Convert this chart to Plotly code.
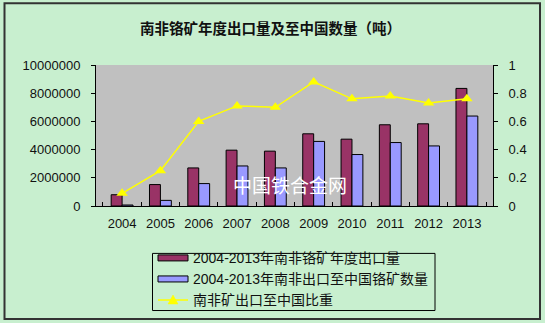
import plotly.graph_objects as go

# South African chrome ore exports, shipments to China and China's share
years = ["2004", "2005", "2006", "2007", "2008", "2009", "2010", "2011", "2012", "2013"]
annual_export = [800000, 1520000, 2700000, 3960000, 3890000, 5120000, 4740000, 5760000, 5830000, 8340000]
export_to_china = [70000, 400000, 1590000, 2840000, 2700000, 4580000, 3650000, 4500000, 4260000, 6380000]
china_share = [0.09, 0.25, 0.60, 0.71, 0.70, 0.88, 0.76, 0.78, 0.73, 0.76]

series_names = [
    "2004-2013年南非铬矿年度出口量",
    "2004-2013年南非出口至中国铬矿数量",
    "南非矿出口至中国比重",
]
left_ticks = [0, 2000000, 4000000, 6000000, 8000000, 10000000]
right_ticks = [0, 0.2, 0.4, 0.6, 0.8, 1]

W, H = 545, 323
PL, PR, PT, PB = 96, 493, 65, 205.7  # plot area edges in pixels


def px_x(px):
    return (px - PL) / (PR - PL)


def px_y(py):
    return (PB - py) / (PB - PT)


FONT = "Liberation Sans, Arial, Noto Sans CJK SC, sans-serif"
CJK = "Noto Sans CJK SC, sans-serif"
MAROON, LILAC, YELLOW = "#993366", "#9999FF", "#FFFF00"

fig = go.Figure()
fig.add_trace(go.Bar(
    x=years, y=annual_export, name=series_names[0],
    marker=dict(color=MAROON, line=dict(color="#000000", width=1)),
))
fig.add_trace(go.Bar(
    x=years, y=export_to_china, name=series_names[1],
    marker=dict(color=LILAC, line=dict(color="#000000", width=1)),
))
fig.add_trace(go.Scatter(
    x=years, y=china_share, name=series_names[2], yaxis="y2",
    mode="lines+markers",
    line=dict(color=YELLOW, width=1.5),
    marker=dict(symbol="triangle-up", size=10, color=YELLOW),
))

# Boxed legend below the plot: swatches + labels
shapes = [
    dict(type="rect", xref="paper", yref="paper",
         x0=px_x(4.5), x1=px_x(540), y0=px_y(318.5), y1=px_y(3.5),
         line=dict(color="#333333", width=2), fillcolor="rgba(0,0,0,0)", layer="above"),
    dict(type="rect", xref="paper", yref="paper",
         x0=px_x(152.5), x1=px_x(435), y0=px_y(310), y1=px_y(253),
         line=dict(color="#000000", width=1), fillcolor="rgba(0,0,0,0)"),
]
row_y = [257.5, 278.5, 299.5]
for color, yc in zip([MAROON, LILAC], row_y[:2]):
    shapes.append(dict(type="rect", xref="paper", yref="paper",
                       x0=px_x(158), x1=px_x(188), y0=px_y(yc + 3), y1=px_y(yc - 3),
                       line=dict(color="#000000", width=1), fillcolor=color))
shapes.append(dict(type="line", xref="paper", yref="paper",
                   x0=px_x(158), x1=px_x(188), y0=px_y(row_y[2]), y1=px_y(row_y[2]),
                   line=dict(color=YELLOW, width=1.5)))
tx, ty = 173, row_y[2]
shapes.append(dict(type="path", xref="paper", yref="paper",
                   path=f"M {px_x(tx - 5)} {px_y(ty + 4)} L {px_x(tx + 5)} {px_y(ty + 4)} "
                        f"L {px_x(tx)} {px_y(ty - 5)} Z",
                   line=dict(color=YELLOW, width=0.5), fillcolor=YELLOW))

annotations = [
    dict(text="南非铬矿年度出口量及至中国数量（吨）", xref="paper", yref="paper",
         x=px_x(270), y=px_y(28), xanchor="center", yanchor="middle", showarrow=False,
         font=dict(family=CJK, size=14.5, color="#111111", weight="bold")),
    dict(text="中国铁合金网", xref="paper", yref="paper",
         x=px_x(290), y=px_y(184), xanchor="center", yanchor="middle", showarrow=False,
         font=dict(family=CJK, size=19, color="#FFFFFF")),
]
for name, yc in zip(series_names, row_y):
    annotations.append(dict(text=name, xref="paper", yref="paper",
                            x=px_x(191), y=px_y(yc), xanchor="left", yanchor="middle",
                            showarrow=False,
                            font=dict(family=FONT, size=14, color="#111111")))

fig.update_layout(
    width=W, height=H,
    margin=dict(l=PL, r=W - PR, t=PT, b=H - PB, autoexpand=False),
    paper_bgcolor="#C8EFCF",
    plot_bgcolor="#C0C0C0",
    barmode="group", bargap=0.43, bargroupgap=0,
    font=dict(family=FONT, size=13, color="#111111"),
    showlegend=False,
    xaxis=dict(
        type="category", showgrid=False, showline=True, linecolor="#000000", linewidth=1,
        ticks="inside", ticklen=4, tickcolor="#000000", tickson="boundaries",
        ticklabelstandoff=5,
        tickfont=dict(family=FONT, size=13, color="#111111"),
    ),
    yaxis=dict(
        range=[0, 10000000], tickvals=left_ticks, ticktext=[str(v) for v in left_ticks],
        showgrid=False, zeroline=False, showline=True, linecolor="#000000", linewidth=1,
        ticks="outside", ticklen=4, tickcolor="#000000", ticklabelstandoff=8,
        tickfont=dict(family=FONT, size=13, color="#111111"),
    ),
    yaxis2=dict(
        overlaying="y", side="right", range=[0, 1], tickvals=right_ticks,
        ticktext=["0", "0.2", "0.4", "0.6", "0.8", "1"],
        showgrid=False, zeroline=False, showline=True, linecolor="#000000", linewidth=1,
        ticks="outside", ticklen=4, tickcolor="#000000", ticklabelstandoff=8,
        tickfont=dict(family=FONT, size=13, color="#111111"),
    ),
    annotations=annotations,
    shapes=shapes,
)

fig.write_html("out.html")
